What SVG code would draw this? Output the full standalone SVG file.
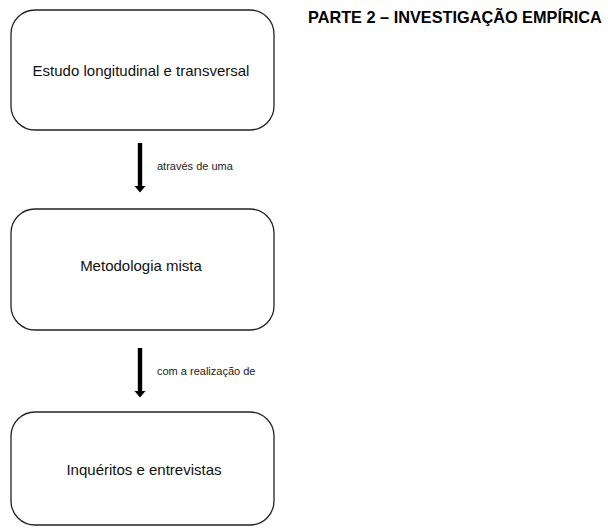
<svg xmlns="http://www.w3.org/2000/svg" width="608" height="528" viewBox="0 0 608 528">
<style>
.box{fill:#fff;stroke:#222;stroke-width:1.3}
.t{font-family:"Liberation Sans",Arial,sans-serif;font-size:15px;fill:#111;text-anchor:middle}
.l{font-family:"Liberation Sans",Arial,sans-serif;font-size:11px;fill:#222}
.h{font-family:"Liberation Sans",Arial,sans-serif;font-size:16.3px;font-weight:bold;fill:#000}
.arr{fill:#000}
</style>
<rect width="608" height="528" fill="#fff"/>
<text class="h" x="308" y="23">PARTE 2 – INVESTIGAÇÃO EMPÍRICA</text>
<g id="n1"><rect class="box" x="11" y="10" width="263" height="120" rx="24"/><text class="t" x="141" y="76">Estudo longitudinal e transversal</text></g>
<g id="n2"><rect class="box" x="11" y="209" width="263" height="121" rx="24"/><text class="t" x="141" y="271">Metodologia mista</text></g>
<g id="n3"><rect class="box" x="11" y="412" width="263" height="113" rx="24"/><text class="t" x="144" y="475">Inquéritos e entrevistas</text></g>
<g id="connectors">
<path class="arr" d="M137.8,143 H142.2 V186 H145.5 L140,192.5 L134.5,186 H137.8 Z"/>
<text class="l" x="157" y="170">através de uma</text>
<path class="arr" d="M137.8,348 H142.2 V391 H145.5 L140,397.5 L134.5,391 H137.8 Z"/>
<text class="l" x="157" y="375">com a realização de</text>
</g>
</svg>
